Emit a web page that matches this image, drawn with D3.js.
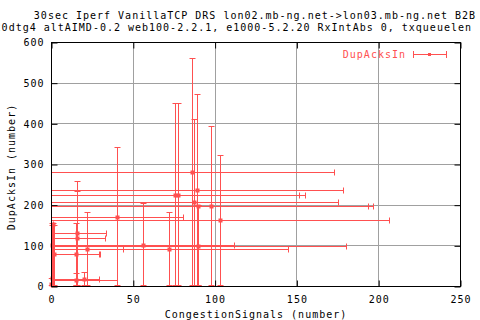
<!DOCTYPE html>
<html>
<head>
<meta charset="utf-8">
<script src="https://cdn.jsdelivr.net/npm/d3@7"></script>
<style>
  body { margin: 0; background: #fff; }
  text { font-family: "DejaVu Sans Mono", "Liberation Mono", monospace; font-size: 10px; letter-spacing: 1px; }
</style>
</head>
<body>
<div id="chart"></div>
<script>
// title lines
var titleLines = [
  "30sec Iperf VanillaTCP DRS lon02.mb-ng.net->lon03.mb-ng.net B2B",
  "20dtg4 altAIMD-0.2 web100-2.2.1, e1000-5.2.20 RxIntAbs 0, txqueuelen"
];
var xTicks = [0, 50, 100, 150, 200, 250];
var yTicks = [0, 100, 200, 300, 400, 500, 600];

// DupAcksIn vs CongestionSignals, with x and y error ranges
var xVals  = [86.1, 89.2, 75.9, 77.5, 87.3, 89.8, 97.7, 103.2, 40.2, 56.1, 89.8, 72.0, 21.8, 16.1, 16.1, 15.3, 20.0, 15.3, 0.5, 0.8, 1.6, 0.3, 1.0];
var yVals  = [280, 236, 224, 224, 206, 197, 195.6, 162, 169, 102, 98.6, 90, 90, 130, 117.6, 78, 16.5, 14.8, 19, 100, 78, 5, 152];
var xLows  = [0, 0, 0, 0, 0, 0, 0, 0, 0, 0, 0, 0, 0, 0, 0, 0, 0, 0, 0, 0, 0, 0, 0];
var xHighs = [173, 178.6, 151.6, 155.3, 175.5, 196.6, 194, 206.5, 80.6, 111.6, 180.4, 144.9, 43.9, 33.7, 32.8, 30.2, 29.6, 40.2, 2, 1.5, 29.6, 1, 1.5];
var yLows  = [0, 0, 0, 0, 0, 0, 0, 0, 0, 0, 0, 0, 0, 0, 0, 0, 0, 0, 0, 0, 0, 0, 0];
var yHighs = [561, 473, 449, 450, 411, 200, 394, 322, 342, 205, 198, 182, 182, 257, 234, 155, 35, 31, 155, 150, 150, 20, 155];

var data = xVals.map(function(d, i) {
  return { x: d, y: yVals[i], xl: xLows[i], xh: xHighs[i], yl: yLows[i], yh: yHighs[i] };
});

var width = 480, height = 320;
var red = "#ff5050", grey = "#a0a0a0";
var pL = 51.5, pR = 460.5, pT = 42.5, pB = 286.5;

var x = d3.scaleLinear().domain([0, 250]).range([pL, pR]);
var y = d3.scaleLinear().domain([0, 600]).range([pB, pT]);
function px(v) { return Math.round(x(v) - 0.5) + 0.5; }
function py(v) { return Math.round(y(v) - 0.5) + 0.5; }

var svg = d3.select("#chart").append("svg")
  .attr("width", width)
  .attr("height", height);

// grid
svg.selectAll(".gx").data(xTicks.slice(1, -1)).enter().append("line")
  .attr("x1", function(d) { return px(d); }).attr("x2", function(d) { return px(d); })
  .attr("y1", pT).attr("y2", pB)
  .style("stroke", grey).style("stroke-width", 1);
svg.selectAll(".gy").data(yTicks.slice(1, -1)).enter().append("line")
  .attr("x1", pL).attr("x2", pR)
  .attr("y1", function(d) { return py(d); }).attr("y2", function(d) { return py(d); })
  .style("stroke", grey).style("stroke-width", 1);

// axes: ticks inside, mirrored
var ax = d3.axisBottom(x).tickValues(xTicks).tickSizeInner(-6).tickSizeOuter(0).tickPadding(9);
var ay = d3.axisLeft(y).tickValues(yTicks).tickSizeInner(-6).tickSizeOuter(0).tickPadding(7);
var axT = d3.axisTop(x).tickValues(xTicks).tickSizeInner(-6).tickSizeOuter(0).tickFormat("");
var ayR = d3.axisRight(y).tickValues(yTicks).tickSizeInner(-6).tickSizeOuter(0).tickFormat("");

svg.append("g").attr("transform", "translate(0," + pB + ")").call(ax);
svg.append("g").attr("transform", "translate(" + pL + ",0)").call(ay);
svg.append("g").attr("transform", "translate(0," + pT + ")").call(axT);
svg.append("g").attr("transform", "translate(" + pR + ",0)").call(ayR);
svg.selectAll(".domain").remove();
svg.selectAll(".tick line").style("stroke", "#000");
svg.selectAll(".tick text").style("fill", "#000").attr("font-family", null).attr("font-size", null);

// clip for error bars
svg.append("clipPath").attr("id", "clip").append("rect")
  .attr("x", pL - 3).attr("y", pT).attr("width", pR - pL + 3).attr("height", pB - pT + 3);

var plot = svg.append("g").attr("clip-path", "url(#clip)");
var cap = 2.5;

var pts = plot.selectAll(".pt").data(data).enter().append("g").attr("class", "pt")
  .style("stroke", red).style("stroke-width", 1);

// horizontal bars
pts.append("line")
  .attr("x1", function(d) { return px(d.xl); }).attr("x2", function(d) { return px(d.xh); })
  .attr("y1", function(d) { return py(d.y); }).attr("y2", function(d) { return py(d.y); });
pts.append("line")
  .attr("x1", function(d) { return px(d.xh); }).attr("x2", function(d) { return px(d.xh); })
  .attr("y1", function(d) { return py(d.y) - cap - 0.5; }).attr("y2", function(d) { return py(d.y) + cap + 0.5; });
pts.append("line")
  .attr("x1", function(d) { return px(d.xl); }).attr("x2", function(d) { return px(d.xl); })
  .attr("y1", function(d) { return py(d.y) - cap - 0.5; }).attr("y2", function(d) { return py(d.y) + cap + 0.5; });
// vertical bars
pts.append("line")
  .attr("x1", function(d) { return px(d.x); }).attr("x2", function(d) { return px(d.x); })
  .attr("y1", function(d) { return py(d.yl); }).attr("y2", function(d) { return py(d.yh); });
pts.append("line")
  .attr("x1", function(d) { return px(d.x) - cap - 0.5; }).attr("x2", function(d) { return px(d.x) + cap + 0.5; })
  .attr("y1", function(d) { return py(d.yh); }).attr("y2", function(d) { return py(d.yh); });
pts.append("line")
  .attr("x1", function(d) { return px(d.x) - cap - 0.5; }).attr("x2", function(d) { return px(d.x) + cap + 0.5; })
  .attr("y1", function(d) { return py(d.yl) - 1; }).attr("y2", function(d) { return py(d.yl) - 1; });
// point markers
pts.append("rect")
  .attr("x", function(d) { return px(d.x) - 2; })
  .attr("y", function(d) { return py(d.y) - 2; })
  .attr("width", 4).attr("height", 4)
  .style("fill", red).style("stroke", "none");

// border
svg.append("rect")
  .attr("x", pL).attr("y", pT).attr("width", pR - pL).attr("height", pB - pT)
  .style("fill", "none").style("stroke", "#000").style("stroke-width", 1);

// title
svg.append("text").attr("x", 255).attr("y", 19).attr("text-anchor", "middle").text(titleLines[0]);
svg.append("text").attr("x", 472).attr("y", 31).attr("text-anchor", "end").text(titleLines[1]);

// axis labels
svg.append("text").attr("x", 256).attr("y", 318).attr("text-anchor", "middle").text("CongestionSignals (number)");
svg.append("text").attr("transform", "translate(15,167) rotate(-90)").attr("text-anchor", "middle").text("DupAcksIn (number)");

// legend
var lg = svg.append("g");
lg.append("text").attr("x", 406).attr("y", 58).attr("text-anchor", "end").style("fill", red).text("DupAcksIn");
lg.append("line").attr("x1", 413).attr("x2", 447).attr("y1", 54.5).attr("y2", 54.5).style("stroke", red);
lg.append("line").attr("x1", 413.5).attr("x2", 413.5).attr("y1", 51).attr("y2", 58).style("stroke", red);
lg.append("line").attr("x1", 446.5).attr("x2", 446.5).attr("y1", 51).attr("y2", 58).style("stroke", red);
lg.append("rect").attr("x", 428).attr("y", 53).attr("width", 3).attr("height", 3).style("fill", red);
</script>
</body>
</html>
